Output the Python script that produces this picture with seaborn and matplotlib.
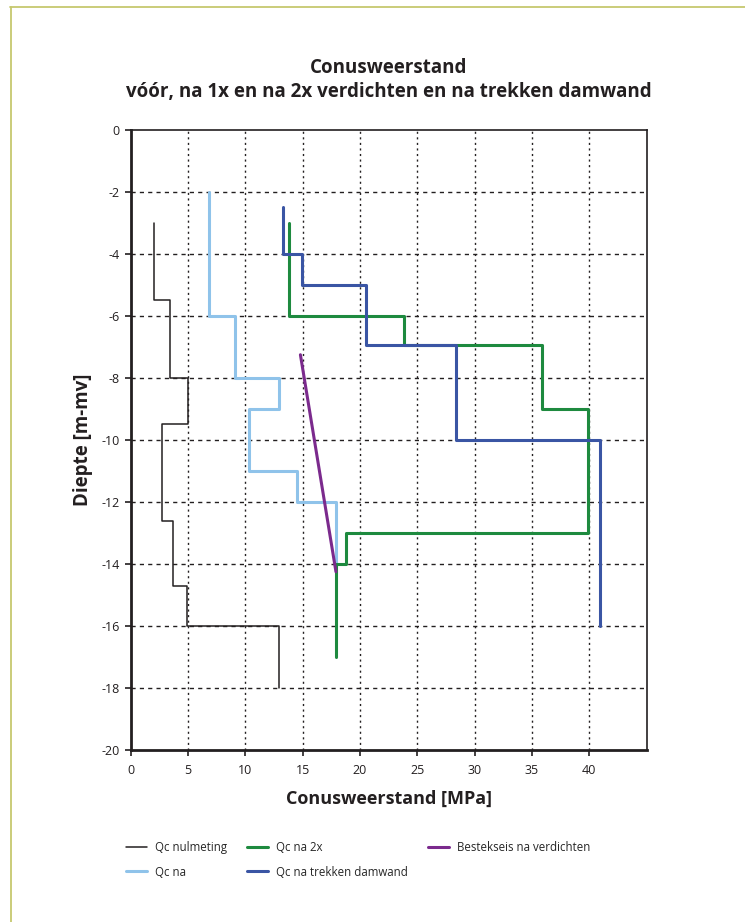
import matplotlib
matplotlib.use("Agg")
import matplotlib.pyplot as plt
from matplotlib.lines import Line2D
import seaborn as sns
import pandas as pd

# ---- data (layer boundaries in depth [m-mv] and cone resistance per layer [MPa]) ----
nul_depth = [-3, -5.5, -8, -9.5, -12.6, -14.7, -16, -18]
nul_qc = [2.0, 3.4, 5.0, 2.7, 3.7, 4.9, 12.9]

na1_depth = [-2, -6, -8, -9, -11, -12, -14]
na1_qc = [6.85, 9.1, 12.9, 10.3, 14.5, 17.9]

na2_depth = [-3, -6, -6.93, -9, -13, -14, -17]
na2_qc = [13.8, 23.8, 35.9, 39.9, 18.8, 17.9]

damw_depth = [-2.5, -4, -5, -6.93, -10, -16]
damw_qc = [13.3, 14.9, 20.5, 28.4, 40.9]

eis_depth = [-7.25, -14.25]
eis_qc = [14.8, 17.9]

series_names = ["Qc nulmeting", "Qc na", "Qc na 2x", "Qc na trekken damwand",
                "Bestekseis na verdichten"]
colors = ["#231f20", "#8fc3ea", "#1e8a3f", "#3a55a4", "#7b2a8d"]
widths = [1.1, 2.2, 2.2, 2.2, 2.2]

xticks = [0, 5, 10, 15, 20, 25, 30, 35, 40]
yticks = [0, -2, -4, -6, -8, -10, -12, -14, -16, -18, -20]


def step_profile(depths, values):
    xs, ys = [], []
    for i, v in enumerate(values):
        xs += [v, v]
        ys += [depths[i], depths[i + 1]]
    return xs, ys


profiles = [step_profile(nul_depth, nul_qc),
            step_profile(na1_depth, na1_qc),
            step_profile(na2_depth, na2_qc),
            step_profile(damw_depth, damw_qc),
            (eis_qc, eis_depth)]

sns.set_style("white")
plt.rcParams["font.family"] = ["Open Sans", "DejaVu Sans"]

fig = plt.figure(figsize=(7.45, 9.22), dpi=100)
ax = fig.add_axes([130.7 / 745, 1 - 750 / 922, (646.7 - 130.7) / 745, 620 / 922])

for name, (xs, ys), c, w in zip(series_names, profiles, colors, widths):
    df = pd.DataFrame({"qc": xs, "depth": ys})
    sns.lineplot(data=df, x="qc", y="depth", sort=False, estimator=None,
                 color=c, linewidth=w, label=name, ax=ax)

ax.set_xlim(0, 45)
ax.set_ylim(-20, 0)
ax.set_xticks(xticks)
ax.set_yticks(yticks)
ax.set_xticklabels([str(t) for t in xticks], fontsize=9)
ax.set_yticklabels([str(t) for t in yticks], fontsize=9)
ax.tick_params(axis="x", direction="out", length=4, width=1.2, color="#231f20",
               bottom=True, pad=6, labelcolor="#231f20")
ax.tick_params(axis="y", direction="out", length=4, width=1.2, color="#231f20",
               left=True, pad=4, labelcolor="#231f20")

# grid: horizontal dashed, vertical dotted
for y in yticks[1:-1]:
    ax.axhline(y, color="#231f20", linewidth=1.0, linestyle=(0, (3, 3)), zorder=0)
for x in xticks[1:]:
    ax.axvline(x, color="#231f20", linewidth=1.0, linestyle=(0, (1.5, 2.5)), zorder=0)

for side in ["left", "bottom"]:
    ax.spines[side].set_linewidth(2.0)
    ax.spines[side].set_color("#231f20")
for side in ["top", "right"]:
    ax.spines[side].set_linewidth(1.2)
    ax.spines[side].set_color("#231f20")
    ax.spines[side].set_visible(True)

ax.set_xlabel("Conusweerstand [MPa]", fontsize=13, fontweight="bold",
              color="#231f20", labelpad=9)
ax.set_ylabel("Diepte [m-mv]", fontsize=13.5, fontweight="bold",
              color="#231f20", labelpad=6)

fig.text(388.7 / 745, 1 - 80 / 922,
         "Conusweerstand\nvóór, na 1x en na 2x verdichten en na trekken damwand",
         ha="center", va="center", fontsize=13.5, fontweight="bold",
         color="#231f20", linespacing=1.28)

ax.get_legend().remove()
handles = [Line2D([], [], color=c, linewidth=2.2 if i else 1.1)
           for i, c in enumerate(colors)]
fig.legend(handles, series_names, loc="upper left", ncol=3, frameon=False,
           bbox_to_anchor=(126 / 745, 1 - 841 / 922), fontsize=8.3,
           handlelength=1.8, handletextpad=0.7, columnspacing=1.75,
           labelspacing=1.0, borderaxespad=0, borderpad=0)

# page border (olive)
border = "#c6c86e"
fig.add_artist(Line2D([10.5 / 745, 10.5 / 745], [0, 1 - 7 / 922], color=border,
                      linewidth=1.3, transform=fig.transFigure))
fig.add_artist(Line2D([10 / 745, 1], [1 - 7 / 922, 1 - 7 / 922], color=border,
                      linewidth=1.3, transform=fig.transFigure))

fig.savefig("out.png", dpi=100)
